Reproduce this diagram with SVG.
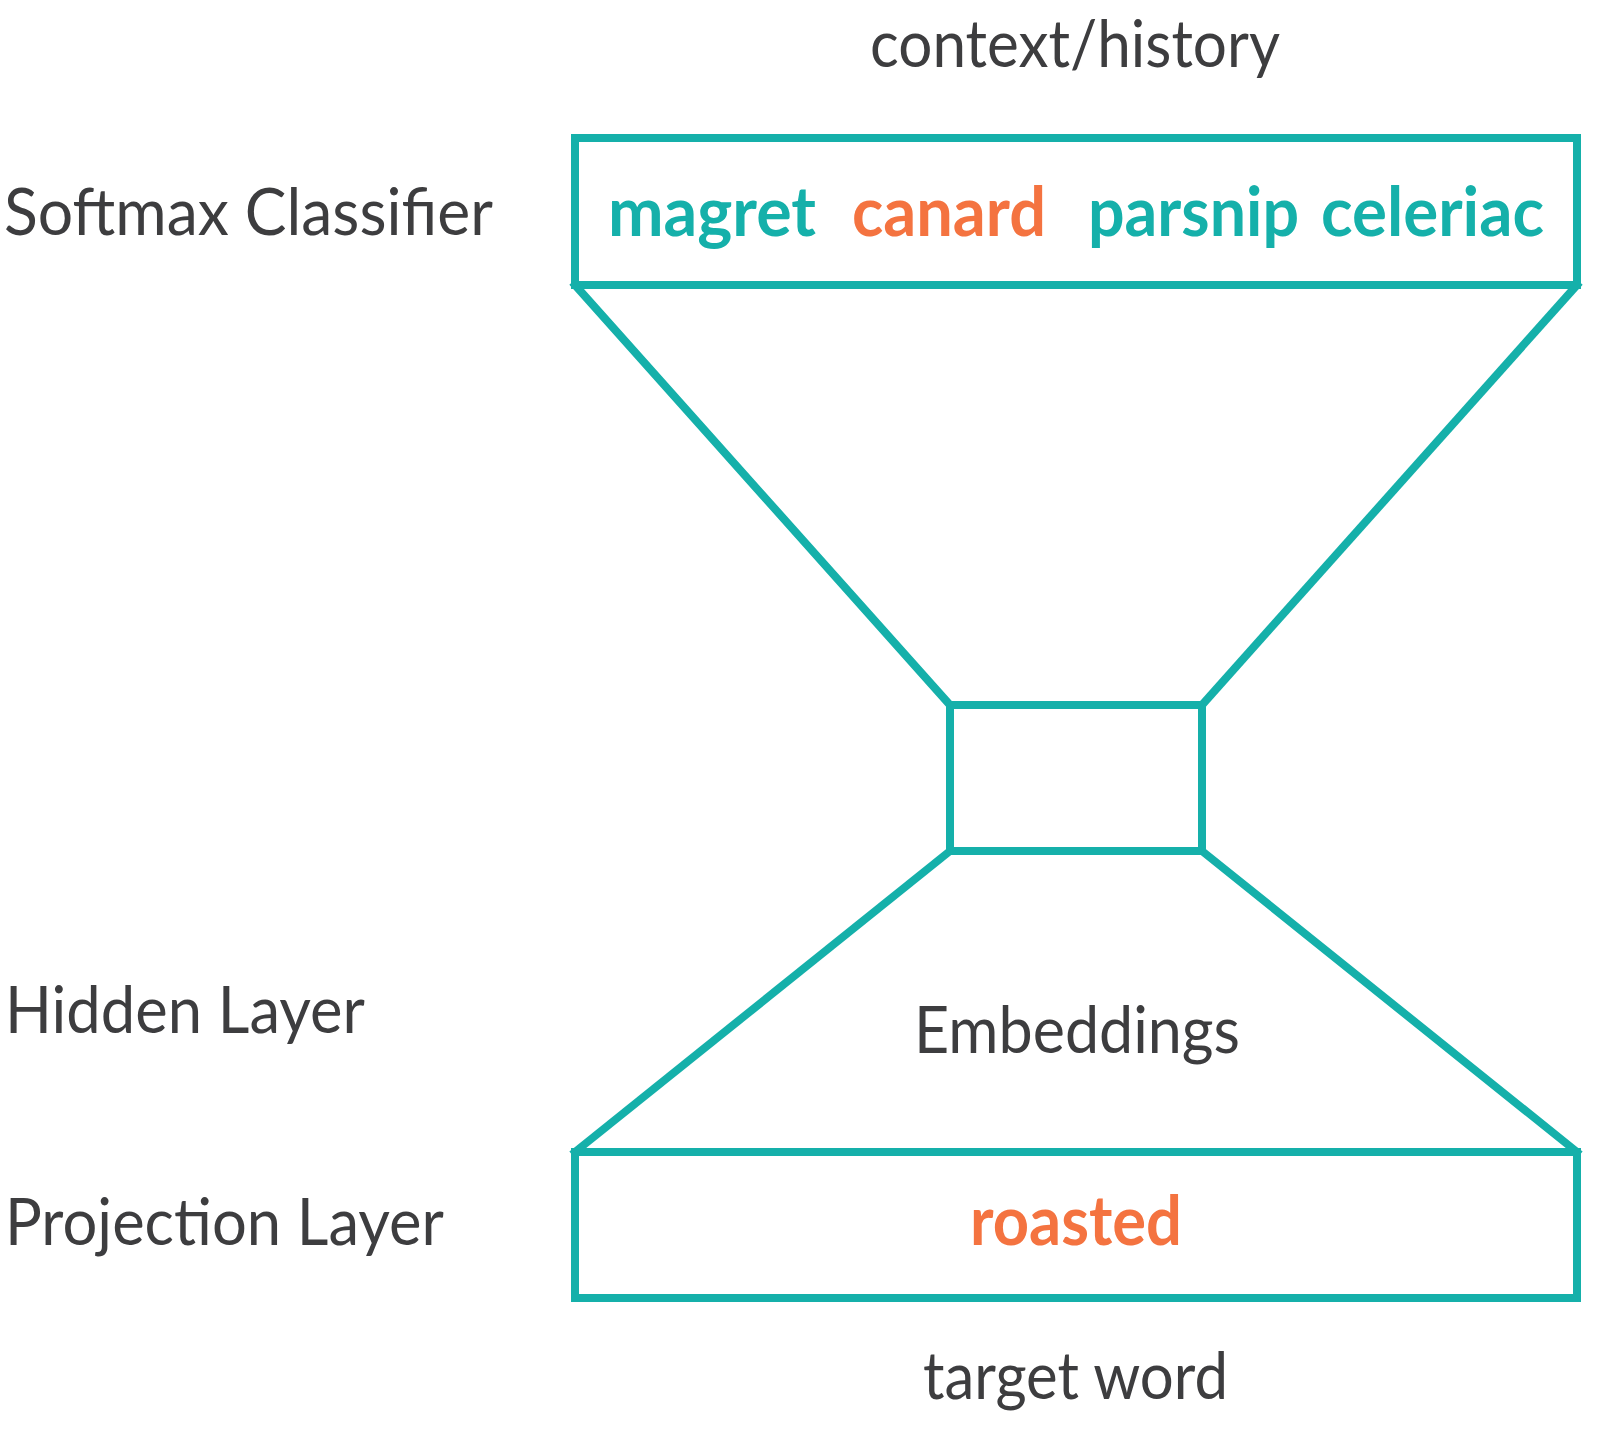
<svg xmlns="http://www.w3.org/2000/svg" width="1600" height="1430" viewBox="0 0 1600 1430">
<style>
.box{fill:none;stroke:#15b0aa;stroke-width:8}
.conn{stroke:#15b0aa;stroke-width:8;stroke-linecap:square}
.lbl{font-family:Lato,"Open Sans",sans-serif;font-size:65px;fill:#3d3d3f}
.w{font-family:Lato,"Open Sans",sans-serif;font-size:68px;font-weight:bold}
.teal{fill:#15b0aa}
.orange{fill:#f47340}
</style>
<rect width="1600" height="1430" fill="#ffffff"/>
<g id="connectors">
<line class="conn" x1="575" y1="285" x2="950" y2="705"/>
<line class="conn" x1="1577" y1="285" x2="1202" y2="705"/>
<line class="conn" x1="950" y1="851" x2="575" y2="1152"/>
<line class="conn" x1="1202" y1="851" x2="1577" y2="1152"/>
</g>
<g id="softmax">
<rect class="box" x="575" y="138" width="1002" height="147"/>
<text class="w teal" x="608" y="236" textLength="208" lengthAdjust="spacingAndGlyphs">magret</text>
<text class="w orange" x="852" y="236" textLength="194" lengthAdjust="spacingAndGlyphs">canard</text>
<text class="w teal" x="1088" y="236" textLength="211" lengthAdjust="spacingAndGlyphs">parsnip</text>
<text class="w teal" x="1321" y="236" textLength="223" lengthAdjust="spacingAndGlyphs">celeriac</text>
</g>
<g id="hidden">
<rect class="box" x="950" y="705" width="252" height="146"/>
</g>
<g id="projection">
<rect class="box" x="575" y="1152" width="1002" height="146"/>
<text class="w orange" x="970" y="1245" textLength="212" lengthAdjust="spacingAndGlyphs">roasted</text>
</g>
<g id="labels">
<text class="lbl" x="870" y="67" textLength="410" lengthAdjust="spacingAndGlyphs">context/history</text>
<text class="lbl" x="4" y="235" textLength="489" lengthAdjust="spacingAndGlyphs">Softmax Classifier</text>
<text class="lbl" x="5" y="1033" textLength="360" lengthAdjust="spacingAndGlyphs">Hidden Layer</text>
<text class="lbl" x="914" y="1053" textLength="326" lengthAdjust="spacingAndGlyphs">Embeddings</text>
<text class="lbl" x="5" y="1245" textLength="439" lengthAdjust="spacingAndGlyphs">Projection Layer</text>
<text class="lbl" x="923" y="1399" textLength="305" lengthAdjust="spacingAndGlyphs">target word</text>
</g>
</svg>
